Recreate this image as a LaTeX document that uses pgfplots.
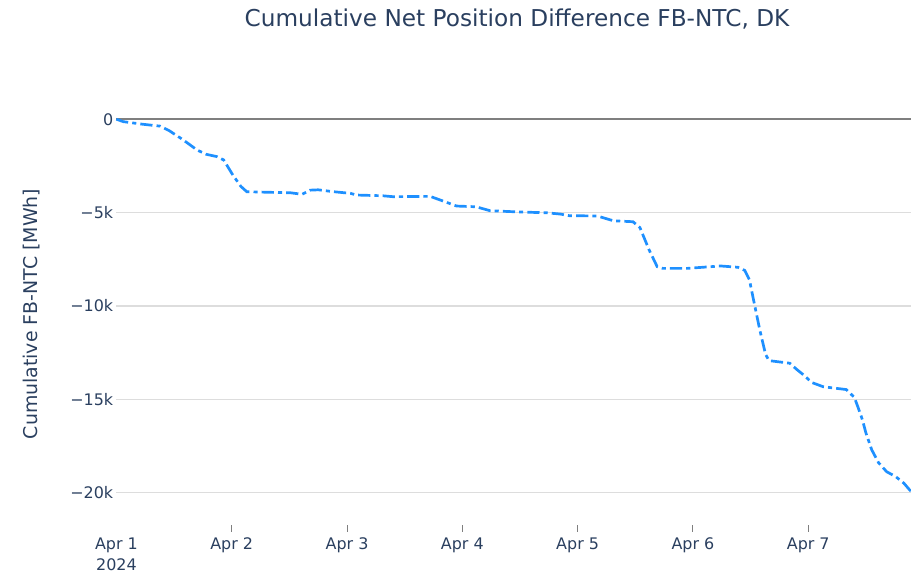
\documentclass[border=0pt]{standalone}
\usepackage{pgfplots}
\pgfplotsset{compat=1.18}
\usepackage{fontspec}
\setmainfont{DejaVu Sans}
\definecolor{txt}{HTML}{2A3F5F}
\definecolor{line}{HTML}{1E90FF}
\definecolor{gridc}{HTML}{DDDDDD}
\definecolor{zeroc}{HTML}{7F7F7F}
\begin{document}
\begin{tikzpicture}
\path[use as bounding box] (0,0) rectangle (911bp,575bp);
\begin{axis}[
  at={(116.4bp,50bp)}, anchor=south west,
  scale only axis, width=802.3bp, height=426.3bp,
  xmin=0, xmax=6.958, ymin=-21735, ymax=1100,
  scaled y ticks=false,
  axis x line*=bottom, axis y line*=left,
  axis line style={draw=none},
  tick align=outside, major tick length=6.8bp,
  xtick={1,2,3,4,5,6},
  xticklabels={Apr 2,Apr 3,Apr 4,Apr 5,Apr 6,Apr 7},
  extra x ticks={0},
  extra x tick labels={{Apr 1\\2024}},
  extra x tick style={xtick style={draw=none}},
  ytick={-20000,-15000,-10000,-5000,0},
  yticklabels={−20k,−15k,−10k,−5k,0},
  xtick style={draw=zeroc, line width=1bp},
  ytick style={draw=none},
  ymajorgrids, grid style={draw=gridc, line width=1.3bp},
  ticklabel style={font=\fontsize{16}{21.4}\selectfont, text=txt},
  xticklabel style={align=center, anchor=north, inner sep=0pt, yshift=-5.5bp},
  yticklabel style={anchor=east, inner sep=0pt, xshift=3.8bp},
  clip=false,
]
\addplot[draw=zeroc, line width=2bp] coordinates {(0,0) (6.958,0)};
\addplot[draw=line, line width=2.7bp, dash pattern=on 12.2bp off 4.1bp on 4.1bp off 4.1bp] coordinates {
(0,0) (0.06,-130) (0.23,-270) (0.38,-370) (0.46,-620) (0.58,-1110) (0.70,-1650)
(0.78,-1880) (0.87,-2000) (0.93,-2180) (1.01,-2990) (1.08,-3600) (1.13,-3880)
(1.30,-3910) (1.51,-3940) (1.61,-4020) (1.68,-3800) (1.75,-3780) (1.88,-3880)
(2.03,-3970) (2.08,-4060) (2.31,-4100) (2.40,-4150) (2.72,-4130) (2.81,-4330)
(2.95,-4650) (3.12,-4690) (3.24,-4900) (3.50,-4970) (3.73,-5010) (3.85,-5080)
(3.93,-5170) (4.17,-5180) (4.31,-5440) (4.48,-5490) (4.54,-5800) (4.62,-7000)
(4.69,-7900) (4.74,-7990) (4.95,-7990) (5.24,-7860) (5.39,-7930) (5.45,-8100)
(5.49,-8600) (5.52,-9510) (5.58,-11290) (5.63,-12600) (5.66,-12930) (5.84,-13070)
(5.90,-13400) (5.96,-13700) (6.03,-14100) (6.13,-14330) (6.33,-14480) (6.40,-14900)
(6.43,-15400) (6.47,-16100) (6.50,-16800) (6.55,-17700) (6.61,-18400) (6.68,-18880)
(6.76,-19150) (6.83,-19500) (6.88,-19860) (6.958,-20250)
};
\end{axis}
\node[anchor=base, text=txt, font=\fontsize{23.3}{27}\selectfont] at (517bp,548bp) {Cumulative Net Position Difference FB-NTC, DK};
\node[rotate=90, text=txt, font=\fontsize{19}{23}\selectfont] at (32bp,261bp) {Cumulative FB-NTC [MWh]};
\end{tikzpicture}
\end{document}
